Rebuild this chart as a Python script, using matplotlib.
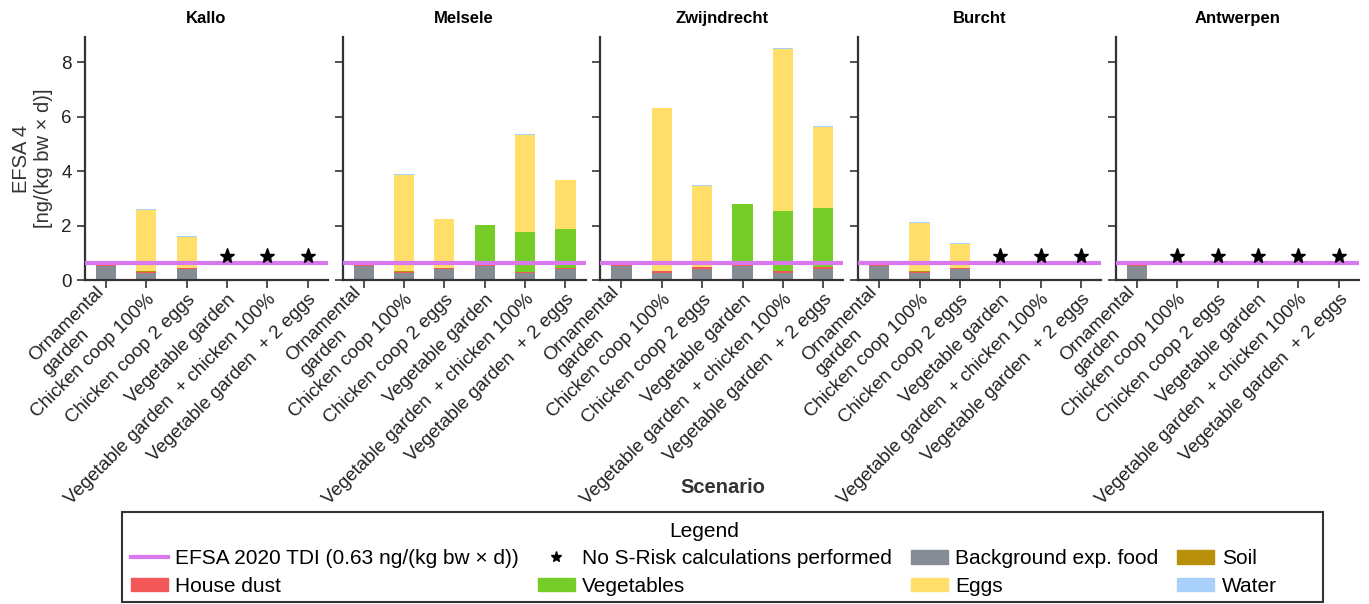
import numpy as np
import matplotlib.pyplot as plt
from matplotlib.patches import Patch, Rectangle
from matplotlib.lines import Line2D
from matplotlib.transforms import ScaledTranslation

plt.rcParams['font.family'] = ['Liberation Sans', 'DejaVu Sans']

# Scenarios and locations
scenarios = ['Ornamental\ngarden', 'Chicken coop 100%', 'Chicken coop 2 eggs',
             'Vegetable garden', 'Vegetable garden  + chicken 100%',
             'Vegetable garden  + 2 eggs']
locations = ['Kallo', 'Melsele', 'Zwijndrecht', 'Burcht', 'Antwerpen']

nan = np.nan
# exposure per component, one row per location (ng/(kg bw x d)); nan = not calculated
background = [[0.52, 0.27, 0.42, nan, nan, nan],
              [0.52, 0.27, 0.42, 0.52, 0.26, 0.39],
              [0.52, 0.27, 0.42, 0.52, 0.26, 0.39],
              [0.52, 0.27, 0.42, nan, nan, nan],
              [0.52, nan, nan, nan, nan, nan]]
house_dust = [[0.03, 0.04, 0.03, nan, nan, nan],
              [0.03, 0.04, 0.03, 0.03, 0.04, 0.04],
              [0.06, 0.07, 0.06, 0.06, 0.07, 0.08],
              [0.03, 0.04, 0.03, nan, nan, nan],
              [0.03, nan, nan, nan, nan, nan]]
soil = [[0.005, 0.005, 0.005, nan, nan, nan],
        [0.005, 0.005, 0.005, 0.005, 0.005, 0.005],
        [0.005, 0.005, 0.005, 0.005, 0.005, 0.005],
        [0.005, 0.005, 0.005, nan, nan, nan],
        [0.005, nan, nan, nan, nan, nan]]
vegetables = [[0, 0, 0, nan, nan, nan],
              [0, 0, 0, 1.45, 1.45, 1.45],
              [0, 0, 0, 2.2, 2.2, 2.18],
              [0, 0, 0, nan, nan, nan],
              [0, nan, nan, nan, nan, nan]]
eggs = [[0, 2.27, 1.13, nan, nan, nan],
        [0, 3.55, 1.78, 0, 3.57, 1.77],
        [0, 5.96, 2.98, 0, 5.96, 2.98],
        [0, 1.79, 0.87, nan, nan, nan],
        [0, nan, nan, nan, nan, nan]]
water = [[0.02, 0.02, 0.02, nan, nan, nan],
         [0.02, 0.02, 0.02, 0.02, 0.02, 0.02],
         [0.02, 0.02, 0.02, 0.02, 0.02, 0.02],
         [0.02, 0.02, 0.02, nan, nan, nan],
         [0.02, nan, nan, nan, nan, nan]]

tdi = 0.63
star_y = 0.87

components = [('Background exp. food', background, '#868c93'),
              ('House dust', house_dust, '#f25858'),
              ('Soil', soil, '#b8900a'),
              ('Vegetables', vegetables, '#76cd28'),
              ('Eggs', eggs, '#ffde6a'),
              ('Water', water, '#a8d0fa')]
tdi_color = '#d977ee'
spine_col = '#333333'

W, H = 1369, 604
fig = plt.figure(figsize=(W / 100, H / 100), dpi=100)
x = np.arange(len(scenarios))
left0, step, w = 0.062, 0.1883, 0.1775
bottom, top = 0.5364, 0.9387
# label offsets (inches): below the tick, and extra lift for two-line labels
pad_down = ScaledTranslation(0, -0.109, fig.dpi_scale_trans)
lift = ScaledTranslation(-0.11, 0.07, fig.dpi_scale_trans)

for i, loc in enumerate(locations):
    ax = fig.add_axes([left0 + i * step, bottom, w, top - bottom])
    base = np.zeros(len(scenarios))
    for name, vals, col in components:
        v = np.array(vals[i], dtype=float)
        ok = ~np.isnan(v)
        ax.bar(x[ok], v[ok], width=0.5, bottom=base[ok], color=col, zorder=2)
        base[ok] += v[ok]
    missing = np.isnan(np.array(background[i], dtype=float))
    ax.plot(x[missing], np.full(missing.sum(), star_y), '*', color='black',
            markersize=11, zorder=4, linestyle='none')
    ax.axhline(tdi, color=tdi_color, lw=3, zorder=3)
    ax.set_xlim(-0.52, 5.5)
    ax.set_ylim(0, 8.92)
    ax.set_yticks([0, 2, 4, 6, 8])
    ax.set_xticks(x)
    ax.set_xticklabels([''] * len(x))
    for xi, lab in zip(x, scenarios):
        tr = ax.get_xaxis_transform() + pad_down
        if '\n' in lab:
            tr = tr + lift
        ax.text(xi, 0, lab, transform=tr, rotation=45, ha='right', va='top',
                rotation_mode='anchor', multialignment='left', linespacing=1.15,
                fontsize=13.5, color='#222222', clip_on=False)
    for s in ['top', 'right']:
        ax.spines[s].set_visible(False)
    for s in ['left', 'bottom']:
        ax.spines[s].set_color(spine_col)
        ax.spines[s].set_linewidth(1.6)
    ax.tick_params(axis='both', direction='out', length=6, width=1.2,
                   color=spine_col, labelsize=13.5, labelcolor='#222222')
    if i == 0:
        ax.set_ylabel('EFSA 4\n[ng/(kg bw × d)]', fontsize=14.5, color='#333333',
                      labelpad=6)
    else:
        ax.tick_params(axis='y', labelleft=False)
    ax.set_title(loc, fontsize=12, fontweight='bold', pad=10)

fig.text(0.528, 0.193, 'Scenario', ha='center', va='center', fontsize=14.5,
         fontweight='bold', color='#333333')

# legend
handles = [Line2D([0], [0], color=tdi_color, lw=3),
           Patch(color='#f25858'),
           Line2D([0], [0], marker='*', color='black', linestyle='none', markersize=8),
           Patch(color='#76cd28'),
           Patch(color='#868c93'),
           Patch(color='#ffde6a'),
           Patch(color='#b8900a'),
           Patch(color='#a8d0fa')]
labels = ['EFSA 2020 TDI (0.63 ng/(kg bw × d))', 'House dust',
          'No S-Risk calculations performed', 'Vegetables',
          'Background exp. food', 'Eggs', 'Soil', 'Water']
leg = fig.legend(handles, labels, ncol=4, loc='upper left',
                 bbox_to_anchor=(131 / W, 1 - 522 / H),
                 title='Legend', title_fontsize=15, fontsize=15,
                 frameon=False, handlelength=1.78, handleheight=0.63,
                 handletextpad=0.35, columnspacing=0.9,
                 labelspacing=0.4, borderpad=0, borderaxespad=0)
fig.patches.append(Rectangle((122 / W, 2 / H), 1201 / W, 90 / H,
                             transform=fig.transFigure, fill=False,
                             edgecolor='#333333', linewidth=1.5))

fig.savefig('out.png', dpi=100)
